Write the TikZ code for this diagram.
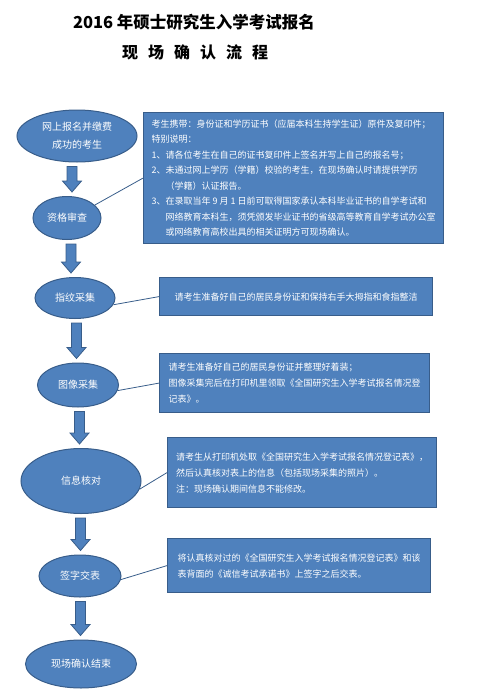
\documentclass[tikz,border=0pt]{standalone}
\usepackage{fontspec}
\setmainfont{Noto Sans CJK SC}
\usetikzlibrary{shapes.geometric,calc}
\definecolor{boxblue}{HTML}{4F81BD}
\definecolor{edgeblue}{HTML}{385D8A}
\tikzset{
  stage/.style={ellipse,draw=edgeblue,line width=1pt,fill=boxblue,text=white,
    inner sep=0pt,align=center,font=\fontsize{10}{18}\selectfont},
  note/.style={rectangle,draw=edgeblue,line width=1.2pt,fill=boxblue,text=white,
    anchor=north west,align=left,inner sep=0pt,font=\fontsize{9}{16}\selectfont},
  link/.style={draw=edgeblue,line width=0.8pt},
  bigarrow/.style={fill=boxblue,draw=edgeblue,line width=0.8pt}
}
% block arrow between two stages
\newcommand{\flowarrow}[2]{%
  \path let \p1=(#1.south), \p2=(#2.north), \p3=($(#1.south)!.5!(#2.north)$) in
    [bigarrow] (\x3-5pt,\y1-4pt) -- (\x3+5pt,\y1-4pt) -- (\x3+5pt,\y2+15pt)
    -- (\x3+9.5pt,\y2+15pt) -- (\x3,\y2+4pt) -- (\x3-9.5pt,\y2+15pt)
    -- (\x3-5pt,\y2+15pt) -- cycle;
}
\newcommand{\gap}{\hspace{10pt}}
\begin{document}
\begin{tikzpicture}[x=1pt,y=-1pt]
  \useasboundingbox (0,0) rectangle (489,693);

  \node[font=\bfseries\fontsize{16.5}{19}\selectfont] (title) at (194,22) {2016 年硕士研究生入学考试报名};
  \node[font=\bfseries\fontsize{16}{19}\selectfont] (subtitle) at (195,52) {现\gap 场\gap 确\gap 认\gap 流\gap 程};

  % stages
  \node[stage,minimum width=120pt,minimum height=52pt] (start) at (77,136) {网上报名并缴费\\成功的考生};
  \node[stage,minimum width=68pt,minimum height=43pt] (check) at (67,218) {资格审查};
  \node[stage,minimum width=80pt,minimum height=41pt] (finger) at (75,298) {指纹采集};
  \node[stage,minimum width=81pt,minimum height=44pt] (image) at (78,385) {图像采集};
  \node[stage,minimum width=120pt,minimum height=65pt] (verify) at (81,481) {信息核对};
  \node[stage,minimum width=82pt,minimum height=42pt] (sign) at (80,576) {签字交表};
  \node[stage,minimum width=111pt,minimum height=48pt] (finish) at (81,664) {现场确认结束};

  \flowarrow{start}{check}
  \flowarrow{check}{finger}
  \flowarrow{finger}{image}
  \flowarrow{image}{verify}
  \flowarrow{verify}{sign}
  \flowarrow{sign}{finish}

  % notes
  \node[note,minimum width=300pt,minimum height=131pt,font=\fontsize{9}{15.5}\selectfont] (note1) at (143,112) {%
    考生携带：身份证和学历证书（应届本科生持学生证）原件及复印件；\\
    特别说明：\\
    1、请各位考生在自己的证书复印件上签名并写上自己的报名号；\\
    2、未通过网上学历（学籍）校验的考生，在现场确认时请提供学历\\
    \phantom{2、}（学籍）认证报告。\\
    3、在录取当年 9 月 1 日前可取得国家承认本科毕业证书的自学考试和\\
    \phantom{3、}网络教育本科生，须凭颁发毕业证书的省级高等教育自学考试办公室\\
    \phantom{3、}或网络教育高校出具的相关证明方可现场确认。};
  \node[note,minimum width=273pt,minimum height=38pt] (note2) at (159,277) {%
    请考生准备好自己的居民身份证和保持右手大拇指和食指整洁};
  \node[note,minimum width=270pt,minimum height=59pt] (note3) at (159,353) {%
    请考生准备好自己的居民身份证并整理好着装；\\
    图像采集完后在打印机里领取《全国研究生入学考试报名情况登\\
    记表》。};
  \node[note,minimum width=269pt,minimum height=70pt] (note4) at (167,437) {%
    请考生从打印机处取《全国研究生入学考试报名情况登记表》，\\
    然后认真核对表上的信息（包括现场采集的照片）。\\
    注：现场确认期间信息不能修改。};
  \node[note,minimum width=263pt,minimum height=54pt] (note5) at (167,538) {%
    将认真核对过的《全国研究生入学考试报名情况登记表》和该\\
    表背面的《诚信考试承诺书》上签字之后交表。};

  \draw[link] (check.25) -- (note1.west);
  \draw[link] (finger.-10) -- (note2.west);
  \draw[link] (image.-8) -- (note3.west);
  \draw[link] (verify.-8) -- (note4.west);
  \draw[link] (sign.-5) -- (note5.west);
\end{tikzpicture}
\end{document}
